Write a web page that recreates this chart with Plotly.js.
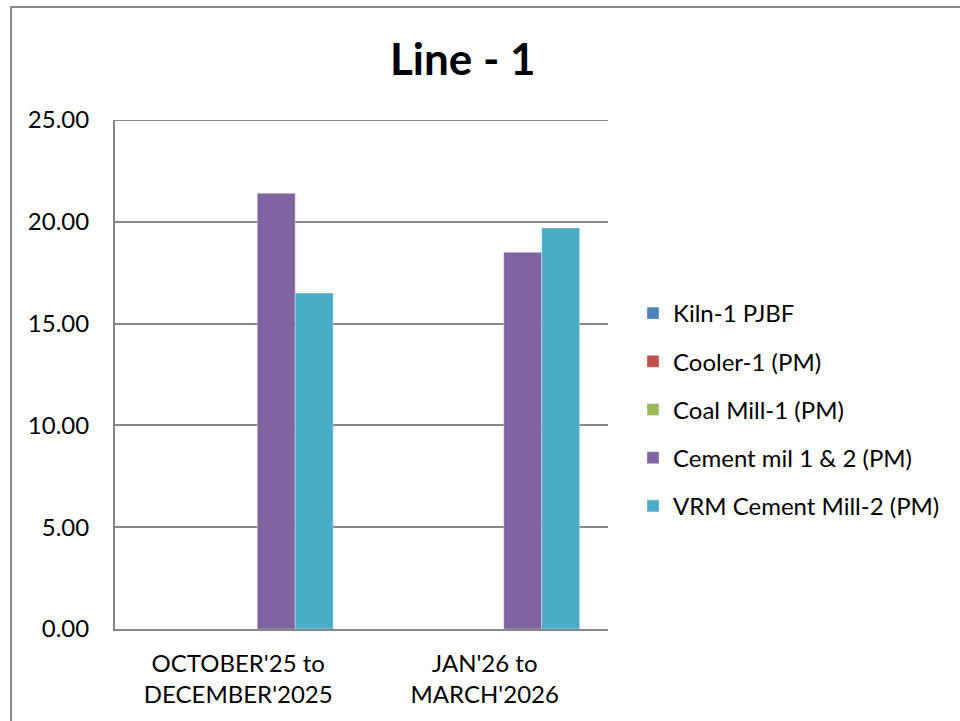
<!DOCTYPE html>
<html>
<head>
<meta charset="utf-8">
<script src="https://cdn.plot.ly/plotly-3.0.1.min.js"></script>
<style>
  html, body { margin: 0; padding: 0; background: #fff; overflow: hidden; }
  #frame { position: absolute; left: 10px; top: 6px; width: 1000px; height: 800px; border: 2px solid #898989; box-sizing: border-box; }
  #chart { position: absolute; left: 0; top: 0; width: 960px; height: 721px; }
</style>
</head>
<body>
<div id="frame"></div>
<div id="chart"></div>
<script>
const categories = ["OCTOBER'25 to<br>DECEMBER'2025", "JAN'26 to<br>MARCH'2026"];
const seriesNames = ["Kiln-1 PJBF", "Cooler-1 (PM)", "Coal Mill-1 (PM)", "Cement mil 1 & 2 (PM)", "VRM Cement Mill-2 (PM)"];
const kiln = [0, 0];
const cooler = [0, 0];
const coalMill = [0, 0];
const cementMill = [21.4, 18.5];
const vrmCementMill = [16.5, 19.7];
const yTicks = [0, 5, 10, 15, 20, 25];
const colors = ["#4f81bd", "#c0504d", "#9bbb59", "#8064a2", "#4bacc6"];

const values = [kiln, cooler, coalMill, cementMill, vrmCementMill];
const data = values.map((v, i) => ({
  type: 'bar',
  name: seriesNames[i],
  x: categories,
  y: v,
  legendgroup: 'g' + i,
  marker: { color: colors[i], line: { color: 'rgba(255,255,255,0.35)', width: 1 } },
  hoverinfo: 'none'
}));

const yMax = yTicks[yTicks.length - 1];
const font = "Lato, 'Open Sans', sans-serif";
const layout = {
  width: 960, height: 721,
  paper_bgcolor: 'rgba(0,0,0,0)',
  plot_bgcolor: 'rgba(0,0,0,0)',
  margin: { l: 115, r: 352, t: 120, b: 92 },
  font: { family: font, color: '#000' },
  title: {
    text: '<b>Line - 1</b>',
    font: { family: font, size: 44, color: '#000' },
    xref: 'container', x: 0.482, xanchor: 'center',
    yref: 'container', y: 1 - 60/721, yanchor: 'middle'
  },
  barmode: 'group',
  bargap: 0.23,
  bargroupgap: 0,
  showlegend: true,
  legend: {
    x: 633/960, xref: 'container', xanchor: 'left',
    y: 1 - 291/721, yref: 'container', yanchor: 'top',
    font: { family: font, size: 24, color: '#000' },
    traceorder: 'grouped',
    tracegroupgap: 14,
    itemwidth: 30
  },
  shapes: [{
    type: 'line', xref: 'paper', x0: 0, x1: 1, yref: 'y', y0: yMax, y1: yMax,
    line: { color: '#868686', width: 2 }, layer: 'below'
  }],
  xaxis: {
    showline: true, linecolor: '#868686', linewidth: 2,
    ticks: '', showgrid: false,
    tickfont: { family: font, size: 24, color: '#000' },
    ticklabelstandoff: 12,
    automargin: false
  },
  yaxis: {
    range: [0, yMax], tickvals: yTicks, tickformat: '.2f',
    showline: true, linecolor: '#868686', linewidth: 2,
    showgrid: true, gridcolor: '#868686', gridwidth: 2,
    zeroline: false, ticks: '',
    ticklabelstandoff: 19,
    tickfont: { family: font, size: 24, color: '#000' },
    automargin: false
  }
};

Plotly.newPlot('chart', data, layout, { staticPlot: true, displayModeBar: false });
</script>
</body>
</html>
